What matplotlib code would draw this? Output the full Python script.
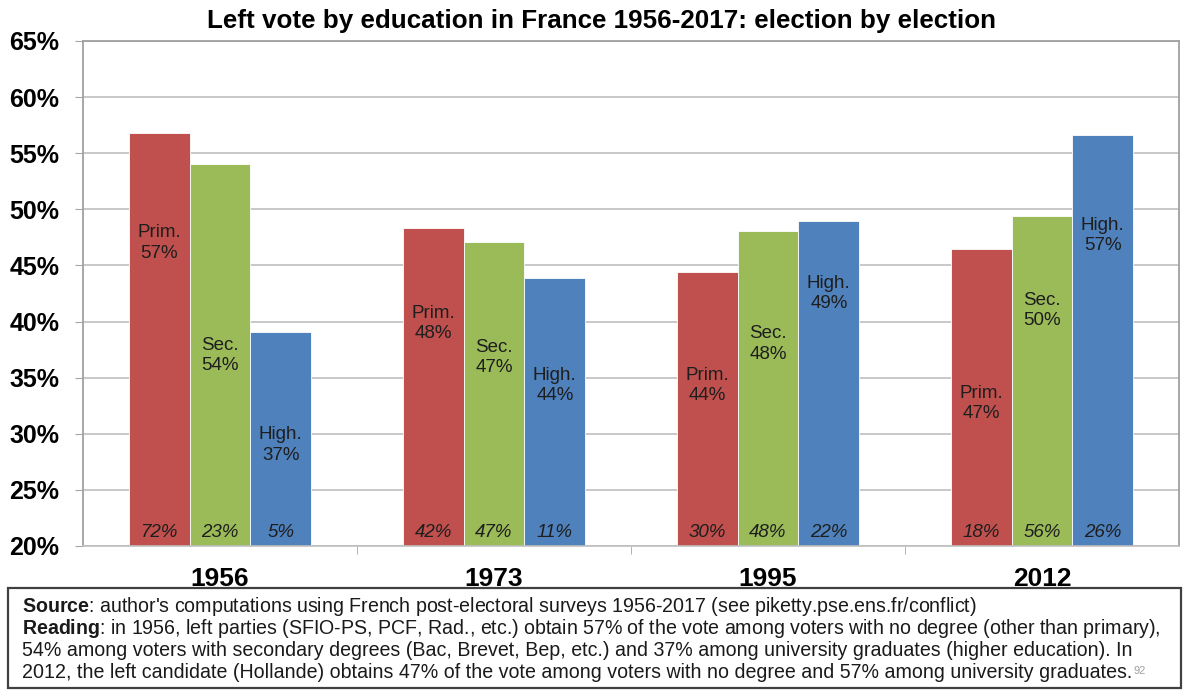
import matplotlib.pyplot as plt
import numpy as np

# data
years = ['1956', '1973', '1995', '2012']
prim = [56.8, 48.3, 44.4, 46.5]
sec = [54.0, 47.1, 48.1, 49.4]
high = [39.1, 43.9, 49.0, 56.6]
prim_lab = ['57%', '48%', '44%', '47%']
sec_lab = ['54%', '47%', '48%', '50%']
high_lab = ['37%', '44%', '49%', '57%']
prim_share = ['72%', '42%', '30%', '18%']
sec_share = ['23%', '47%', '48%', '56%']
high_share = ['5%', '11%', '22%', '26%']
# where the "Prim./Sec./High." annotations sit (in % units)
prim_lab_y = [47.0, 39.8, 34.3, 32.7]
sec_lab_y = [37.0, 36.8, 38.0, 41.0]
high_lab_y = [29.0, 34.3, 42.5, 47.7]
yticks = [20, 25, 30, 35, 40, 45, 50, 55, 60, 65]

plt.rcParams['font.family'] = ['Liberation Sans', 'DejaVu Sans']
plt.rcParams['mathtext.fontset'] = 'custom'
plt.rcParams['mathtext.rm'] = 'Liberation Sans'
plt.rcParams['mathtext.bf'] = 'Liberation Sans:bold'

fig = plt.figure(figsize=(11.86, 6.9), dpi=100)
ax = fig.add_axes([0.0700, 0.2087, 0.9241, 0.7319])

x = np.arange(len(years))
w = 0.222
red, green, blue = '#C0504D', '#9BBB59', '#4F81BD'
series = [
    (prim, red, 'Prim.', prim_lab, prim_share, prim_lab_y, -w),
    (sec, green, 'Sec.', sec_lab, sec_share, sec_lab_y, 0),
    (high, blue, 'High.', high_lab, high_share, high_lab_y, w),
]
for vals, col, name, labs, shares, laby, off in series:
    ax.bar(x + off, vals, width=w, color=col, edgecolor='white', linewidth=0.6, zorder=2)
    for i in range(len(years)):
        ax.text(x[i] + off, laby[i], name + '\n' + labs[i], ha='center', va='center',
                fontsize=13.5, color='#1e1e1e', linespacing=1.25, zorder=3)
        ax.text(x[i] + off, 21.2, shares[i], ha='center', va='center',
                fontsize=13.5, style='italic', color='#1e1e1e', zorder=3)

ax.set_ylim(20, 65)
ax.set_xlim(-0.5, 3.5)
ax.set_yticks(yticks)
ax.set_yticklabels([f'{t}%' for t in yticks], fontsize=18, fontweight='bold')
ax.yaxis.grid(True, color='#BFBFBF', linewidth=1.2, zorder=0)
ax.set_axisbelow(True)
ax.tick_params(axis='y', length=6, color='#A6A6A6', pad=11)

ax.set_xticks(x)
ax.set_xticklabels(years, fontsize=19, fontweight='bold')
ax.tick_params(axis='x', which='major', length=0, pad=15)
ax.set_xticks([0.5, 1.5, 2.5], minor=True)
ax.tick_params(axis='x', which='minor', length=6, color='#A6A6A6')

for s in ['left', 'right', 'top']:
    ax.spines[s].set_color('#A0A0A0')
    ax.spines[s].set_linewidth(1.3)
ax.spines['bottom'].set_color('#BFBFBF')
ax.spines['bottom'].set_linewidth(1.2)

fig.text(0.507, 0.970, 'Left vote by education in France 1956-2017: election by election',
         ha='center', va='center', fontsize=18.7, fontweight='bold')

# note box under the chart
box = plt.Rectangle((0.0067, 0.003), 0.9895, 0.145, transform=fig.transFigure,
                    fill=False, edgecolor='#404040', linewidth=1.6)
fig.add_artist(box)
fs = 14.15
lines = [
    (r"$\bf{Source}$: author's computations using French post-electoral surveys 1956-2017 (see piketty.pse.ens.fr/conflict)", 606),
    (r"$\bf{Reading}$: in 1956, left parties (SFIO-PS, PCF, Rad., etc.) obtain 57% of the vote among voters with no degree (other than primary),", 628),
    ("54% among voters with secondary degrees (Bac, Brevet, Bep, etc.) and 37% among university graduates (higher education). In", 651),
    ("2012, the left candidate (Hollande) obtains 47% of the vote among voters with no degree and 57% among university graduates.", 673),
]
for txt, py in lines:
    t = fig.text(22 / 1186, 1 - py / 690, txt, ha='left', va='center', fontsize=fs, color='#1a1a1a')
fig.canvas.draw()
bb = t.get_window_extent()
fig.text(bb.x1 / 1186 + 0.001, 1 - 671 / 690, '92', ha='left', va='center', fontsize=8, color='#A0A0A0')

fig.savefig('out.png', dpi=100)
